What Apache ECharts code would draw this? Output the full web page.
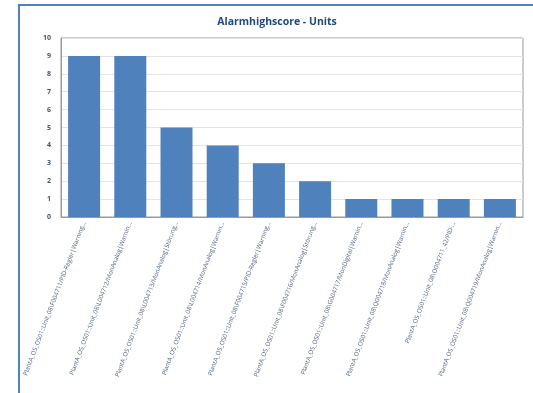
<!DOCTYPE html>
<html>
<head>
<meta charset="utf-8">
<script src="https://cdn.jsdelivr.net/npm/echarts@6/dist/echarts.min.js"></script>
<style>
html, body { margin: 0; padding: 0; background: #fff; }
#main { width: 533px; height: 393px; }
</style>
</head>
<body>
<div id="main"></div>
<script>
var categories = [
    'PlantA_OS_OS01::Unit_08\\F004711/PID-Regler|Warning...',
    'PlantA_OS_OS01::Unit_08\\L004712/MonAnalog|Warnin...',
    'PlantA_OS_OS01::Unit_08\\L004713/MonAnalog|Störung...',
    'PlantA_OS_OS01::Unit_08\\L004714/MonAnalog|Warnin...',
    'PlantA_OS_OS01::Unit_08\\F004715/PID-Regler|Warning...',
    'PlantA_OS_OS01::Unit_08\\F004716/MonAnalog|Störung...',
    'PlantA_OS_OS01::Unit_08\\G004717/MonDigital|Warnin...',
    'PlantA_OS_OS01::Unit_08\\Q004718/MonAnalog|Warnin...',
    'PlantA_OS_OS01::Unit_08\\O004711_42/PID-...',
    'PlantA_OS_OS01::Unit_08\\Q004719/MonAnalog|Warnin...'
];
var values = [9, 9, 5, 4, 3, 2, 1, 1, 1, 1];
var yTicks = [0, 10, 1]; // min, max, interval

var myChart = echarts.init(document.getElementById('main'));
var option = {
    animation: false,
    title: {
        text: 'Alarmhighscore - Units',
        left: 272,
        top: 12,
        textAlign: 'center',
        textStyle: {
            fontFamily: 'Open Sans',
            fontSize: 10.5,
            fontWeight: 'bold',
            color: '#1f497d'
        }
    },
    graphic: [{
        type: 'rect',
        shape: { x: 19, y: 5, width: 540, height: 400 },
        style: { fill: 'none', stroke: '#4f81bd', lineWidth: 2 },
        silent: true
    }],
    grid: {
        left: 61,
        right: 10,
        top: 38,
        bottom: 176,
        show: true,
        borderColor: '#9a9a9a',
        borderWidth: 1
    },
    xAxis: {
        type: 'category',
        data: categories,
        axisLine: { lineStyle: { color: '#9a9a9a' } },
        axisTick: { show: false },
        axisLabel: {
            interval: 0,
            rotate: 69,
            fontSize: 6.2,
            fontFamily: 'Open Sans',
            color: '#4a5f80',
            margin: 5
        }
    },
    yAxis: {
        type: 'value',
        min: yTicks[0],
        max: yTicks[1],
        interval: yTicks[2],
        axisLine: { show: true, lineStyle: { color: '#9a9a9a' } },
        axisTick: { show: false },
        splitLine: { lineStyle: { color: '#e4e4e4' } },
        axisLabel: {
            fontSize: 7,
            fontWeight: 'bold',
            fontFamily: 'Open Sans',
            color: '#44546a',
            margin: 10
        }
    },
    series: [{
        type: 'bar',
        data: values,
        barWidth: 32,
        itemStyle: { color: '#4f81bd' }
    }]
};

// 加载图表
myChart.setOption(option);
</script>
</body>
</html>
